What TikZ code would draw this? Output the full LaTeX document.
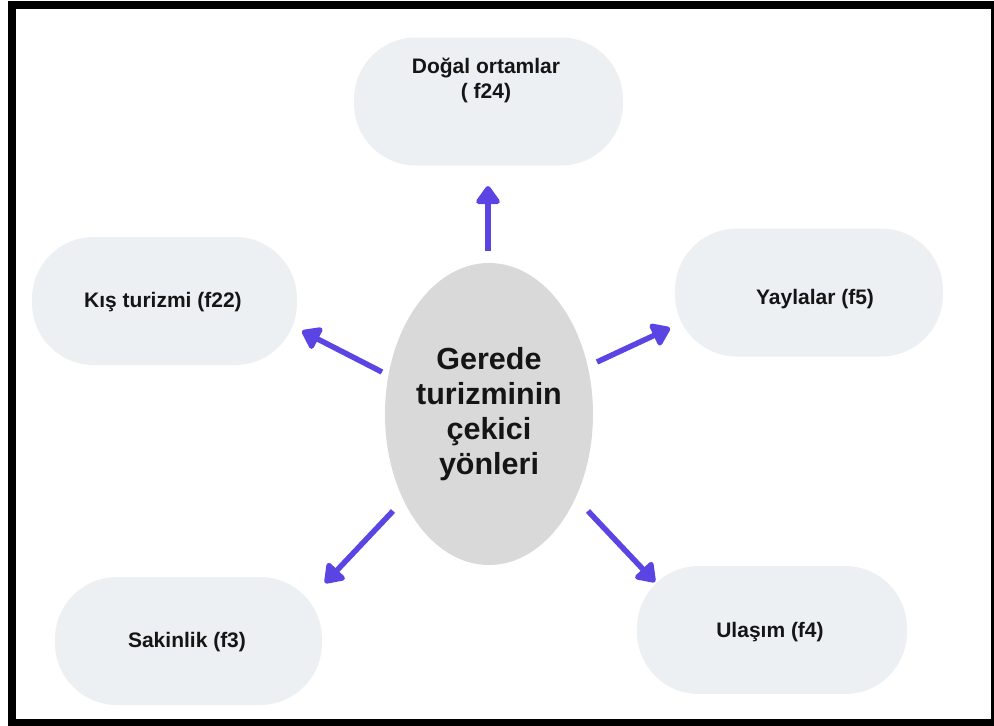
\documentclass[tikz,border=0pt]{standalone}
\usepackage{fontspec}
\setmainfont{Liberation Sans}
\usetikzlibrary{shapes.geometric,arrows.meta}
\definecolor{boxfill}{HTML}{EDF0F3}
\definecolor{ellfill}{HTML}{D9D9D9}
\definecolor{arrowcol}{HTML}{5A45E4}
\definecolor{txtcol}{HTML}{151515}
\tikzset{
  pill/.style={draw=none, fill=boxfill, rounded corners=62pt, minimum width=#1, minimum height=128pt, inner sep=0pt},
  lbl/.style={text=txtcol, font=\bfseries\fontsize{21}{25}\selectfont, align=center, inner sep=0pt},
  core/.style={ellipse, fill=ellfill, draw=none, minimum width=208pt, minimum height=302pt, inner sep=0pt,
    text=txtcol, font=\bfseries\fontsize{30.5}{35}\selectfont, align=center},
  arr/.style={draw=arrowcol, line width=5.5pt, -{Triangle[width=27pt,length=20pt,round]}, arrowcol}
}
\begin{document}
\begin{tikzpicture}[x=1pt,y=-1pt]
\useasboundingbox (0,0) rectangle (994,726);
\fill[black] (8,1) rectangle (994,726);
\fill[white] (16,9) rectangle (991,719);

\node[core] (center) at (489,414) {Gerede\\turizminin\\çekici\\yönleri};

\node[pill=269pt] (dogal) at (488.5,101.5) {};
\node[lbl] (dogaltxt) at (486,80) {Doğal ortamlar\\( f24)};

\node[pill=265pt] (kis) at (164.5,301) {};
\node[lbl] (kistxt) at (163,302) {Kış turizmi (f22)};

\node[pill=268pt] (yayla) at (809,292.5) {};
\node[lbl] (yaylatxt) at (815,299) {Yaylalar (f5)};

\node[pill=267pt] (sakin) at (188.5,641) {};
\node[lbl] (sakintxt) at (187,642) {Sakinlik (f3)};

\node[pill=270pt] (ulasim) at (772,630) {};
\node[lbl] (ulasimtxt) at (770,632) {Ulaşım (f4)};

\coordinate (a1s) at (488,251);
\coordinate (a1e) at (488,186);
\coordinate (a2s) at (382,372);
\coordinate (a2e) at (302,331);
\coordinate (a3s) at (597,362);
\coordinate (a3e) at (670,328);
\coordinate (a4s) at (393,511);
\coordinate (a4e) at (325,583);
\coordinate (a5s) at (588,511);
\coordinate (a5e) at (655,582);

\draw[arr] (a1s) -- (a1e);
\draw[arr] (a2s) -- (a2e);
\draw[arr] (a3s) -- (a3e);
\draw[arr] (a4s) -- (a4e);
\draw[arr] (a5s) -- (a5e);
\end{tikzpicture}
\end{document}
